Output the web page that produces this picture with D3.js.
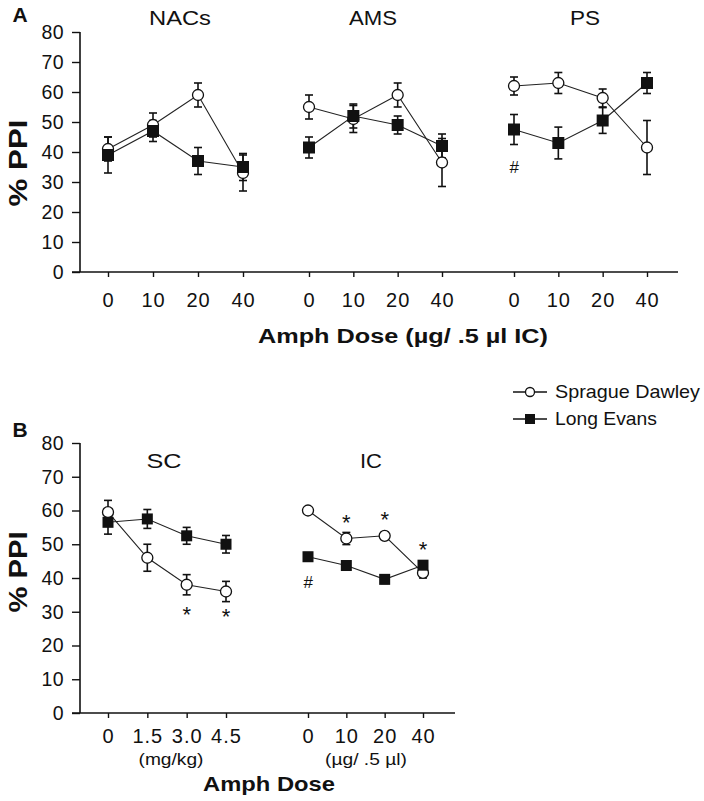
<!DOCTYPE html>
<html>
<head>
<meta charset="utf-8">
<script src="https://cdn.jsdelivr.net/npm/d3@7"></script>
<style>
  body { margin: 0; background: #fff; }
  svg text { font-family: "Liberation Sans", Arial, Helvetica, sans-serif; fill: #111; }
</style>
</head>
<body>
<svg id="chart" width="704" height="801"></svg>
<script>
// ---------- DATA ----------
const yTicks = [0, 10, 20, 30, 40, 50, 60, 70, 80];
const doseIC = ["0", "10", "20", "40"];
const doseSC = ["0", "1.5", "3.0", "4.5"];
const seriesNames = ["Sprague Dawley", "Long Evans"];

// Panel A (IC microinjection into regions)
const nacSD = [41, 49, 59, 33];      const nacSDerr = [4, 4, 4, 6];
const nacLE = [39, 47, 37, 35];      const nacLEerr = [6, 3.5, 4.5, 4.5];
const amsSD = [55, 51, 59, 36.5];    const amsSDerr = [4, 4.5, 4, 8];
const amsLE = [41.5, 52, 49, 42];    const amsLEerr = [3.5, 4, 3, 4];
const psSD  = [62, 63, 58, 41.5];    const psSDerr  = [3, 3.5, 3, 9];
const psLE  = [47.5, 43, 50.5, 63];  const psLEerr  = [5, 5.3, 4.3, 3.5];

// Panel B (systemic SC vs IC)
const scSD = [59.5, 46, 38, 36];     const scSDerr = [3.5, 4, 3, 3];
const scLE = [56.5, 57.5, 52.5, 50]; const scLEerr = [3.5, 2.8, 2.5, 2.6];
const icSD = [60, 51.7, 52.5, 41.5]; const icSDerr = [1, 1.8, 1, 1.5];
const icLE = [46.3, 43.7, 39.6, 43.8]; const icLEerr = [1.2, 1, 1.2, 1.2];

// ---------- DRAW ----------
const svg = d3.select("#chart");

function drawPanel(cfg) {
  const y = d3.scaleLinear().domain([0, 80]).range([cfg.y0, cfg.y1]);
  const yAx = svg.append("g").attr("transform", `translate(${cfg.axisX},0)`)
    .call(d3.axisLeft(y).tickValues(yTicks).tickSize(8).tickPadding(8).tickFormat(d3.format("d")));
  yAx.select(".domain").attr("d", `M0,${cfg.y1}V${cfg.y0}`).attr("stroke", "#111").attr("stroke-width", 1.6);
  yAx.selectAll(".tick line").attr("stroke", "#111").attr("stroke-width", 1.4);
  yAx.selectAll(".tick text").attr("font-size", 19.5).attr("fill", "#111")
    .attr("letter-spacing", 0.4).attr("font-family", "Liberation Sans, Arial, sans-serif");
  svg.append("line").attr("x1", cfg.axisX - 8).attr("x2", cfg.xEnd)
    .attr("y1", cfg.y0).attr("y2", cfg.y0).attr("stroke", "#111").attr("stroke-width", 1.6);

  cfg.groups.forEach(g => {
    const x = d3.scalePoint().domain(g.doses).range(g.range);
    const xAx = svg.append("g").attr("transform", `translate(0,${cfg.y0})`)
      .call(d3.axisBottom(x).tickSize(5).tickPadding(cfg.tickPad));
    xAx.select(".domain").remove();
    xAx.selectAll(".tick line").attr("stroke", "#111").attr("stroke-width", 1.4);
    xAx.selectAll(".tick text").attr("font-size", 20).attr("fill", "#111")
      .attr("letter-spacing", 1).attr("font-family", "Liberation Sans, Arial, sans-serif");

    svg.append("text").attr("x", g.titleX).attr("y", cfg.titleY)
      .attr("text-anchor", "middle").attr("font-size", 21)
      .attr("textLength", g.titleW).attr("lengthAdjust", "spacingAndGlyphs")
      .text(g.title);

    const ser = [
      { v: g.sd, e: g.sdErr, kind: "circle" },
      { v: g.le, e: g.leErr, kind: "square" }
    ];
    const line = d3.line().x((d, i) => x(g.doses[i])).y(d => y(d));
    ser.forEach(s => {
      svg.append("path").datum(s.v).attr("d", line)
        .attr("fill", "none").attr("stroke", "#222").attr("stroke-width", 1.1);
    });
    ser.forEach(s => {
      s.v.forEach((v, i) => {
        const cx = x(g.doses[i]);
        const eg = svg.append("g").attr("stroke", "#111").attr("stroke-width", 1.6);
        eg.append("line").attr("x1", cx).attr("x2", cx).attr("y1", y(v - s.e[i])).attr("y2", y(v + s.e[i]));
        [v - s.e[i], v + s.e[i]].forEach(c => {
          eg.append("line").attr("x1", cx - 4).attr("x2", cx + 4).attr("y1", y(c)).attr("y2", y(c));
        });
      });
    });
    ser.forEach(s => {
      s.v.forEach((v, i) => {
        const cx = x(g.doses[i]), cy = y(v);
        if (s.kind === "circle") {
          svg.append("circle").attr("cx", cx).attr("cy", cy).attr("r", cfg.r)
            .attr("fill", "#fff").attr("stroke", "#111").attr("stroke-width", 1.3);
        } else {
          svg.append("rect").attr("x", cx - cfg.sq / 2).attr("y", cy - cfg.sq / 2)
            .attr("width", cfg.sq).attr("height", cfg.sq).attr("fill", "#111");
        }
      });
    });
    (g.marks || []).forEach(m => {
      svg.append("text").attr("x", x(g.doses[m.i])).attr("y", y(m.v))
        .attr("text-anchor", "middle").attr("font-size", m.t === "#" ? 17 : 22)
        .attr("font-style", m.t === "#" ? "italic" : "normal")
        .attr("fill", "#111")
        .text(m.t);
    });
    (g.sub ? [g.sub] : []).forEach(sb => {
      svg.append("text").attr("x", sb.x).attr("y", sb.y).attr("text-anchor", "middle")
        .attr("font-size", 17).attr("textLength", sb.w).attr("lengthAdjust", "spacingAndGlyphs").text(sb.t);
    });
  });

  svg.append("text").attr("x", 20).attr("y", cfg.letterY).attr("text-anchor", "middle")
    .attr("font-size", 21).attr("font-weight", "bold").text(cfg.letter);
  svg.append("text").attr("transform", `translate(27,${cfg.yLabY}) rotate(-90)`)
    .attr("text-anchor", "middle").attr("font-size", 26).attr("font-weight", "bold")
    .attr("textLength", cfg.yLabW).attr("lengthAdjust", "spacingAndGlyphs").text("% PPI");
}

drawPanel({
  letter: "A", letterY: 22, axisX: 80, y0: 272, y1: 32, xEnd: 678, titleY: 25,
  tickPad: 16, r: 5.5, sq: 12, yLabY: 163, yLabW: 87,
  groups: [
    { title: "NACs", titleX: 180, titleW: 62, doses: doseIC, range: [108, 243],
      sd: nacSD, sdErr: nacSDerr, le: nacLE, leErr: nacLEerr },
    { title: "AMS", titleX: 373, titleW: 48, doses: doseIC, range: [309, 442],
      sd: amsSD, sdErr: amsSDerr, le: amsLE, leErr: amsLEerr },
    { title: "PS", titleX: 585, titleW: 30, doses: doseIC, range: [514, 647],
      sd: psSD, sdErr: psSDerr, le: psLE, leErr: psLEerr,
      marks: [{ i: 0, v: 33, t: "#" }] }
  ]
});

drawPanel({
  letter: "B", letterY: 437, axisX: 80, y0: 713, y1: 443, xEnd: 455, titleY: 468,
  tickPad: 11, r: 5.5, sq: 11, yLabY: 572, yLabW: 81,
  groups: [
    { title: "SC", titleX: 164, titleW: 35, doses: doseSC, range: [108, 226],
      sd: scSD, sdErr: scSDerr, le: scLE, leErr: scLEerr,
      marks: [{ i: 2, v: 27, t: "*" }, { i: 3, v: 26.4, t: "*" }],
      sub: { t: "(mg/kg)", x: 171, y: 765, w: 65 } },
    { title: "IC", titleX: 371, titleW: 22, doses: doseIC, range: [308, 423],
      sd: icSD, sdErr: icSDerr, le: icLE, leErr: icLEerr,
      marks: [{ i: 0, v: 37, t: "#" }, { i: 1, v: 54.2, t: "*" }, { i: 2, v: 55.1, t: "*" }, { i: 3, v: 46.2, t: "*" }],
      sub: { t: "(\u00b5g/ .5 \u00b5l)", x: 366, y: 765, w: 82 } }
  ]
});

svg.append("text").attr("x", 403).attr("y", 343).attr("text-anchor", "middle")
  .attr("font-size", 20).attr("font-weight", "bold")
  .attr("textLength", 290).attr("lengthAdjust", "spacingAndGlyphs")
  .text("Amph Dose (\u00b5g/ .5 \u00b5l IC)");
svg.append("text").attr("x", 269).attr("y", 791).attr("text-anchor", "middle")
  .attr("font-size", 21).attr("font-weight", "bold")
  .attr("textLength", 132).attr("lengthAdjust", "spacingAndGlyphs")
  .text("Amph Dose");

const legend = svg.append("g");
seriesNames.forEach((name, i) => {
  const ly = 392 + i * 27;
  legend.append("line").attr("x1", 513).attr("x2", 547).attr("y1", ly).attr("y2", ly)
    .attr("stroke", "#111").attr("stroke-width", 1.3);
  if (i === 0) {
    legend.append("circle").attr("cx", 530).attr("cy", ly).attr("r", 4.5)
      .attr("fill", "#fff").attr("stroke", "#111").attr("stroke-width", 1.3);
  } else {
    legend.append("rect").attr("x", 525).attr("y", ly - 5).attr("width", 10).attr("height", 10).attr("fill", "#111");
  }
  legend.append("text").attr("x", 555).attr("y", ly + 6).attr("font-size", 19)
    .attr("textLength", i === 0 ? 145 : 102).attr("lengthAdjust", "spacingAndGlyphs")
    .text(name);
});
</script>
</body>
</html>
